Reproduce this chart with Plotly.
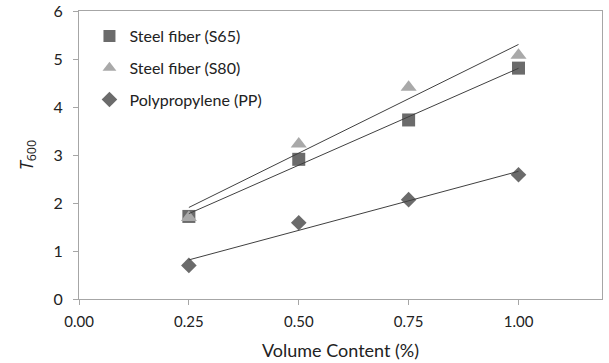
import numpy as np
import plotly.graph_objects as go

volume = [0.25, 0.50, 0.75, 1.00]
s65 = [1.72, 2.91, 3.73, 4.81]
s80 = [1.70, 3.23, 4.41, 5.08]
pp = [0.70, 1.59, 2.07, 2.59]
series_names = ["Steel fiber (S65)", "Steel fiber (S80)", "Polypropylene (PP)"]
x_ticks = [0.0, 0.25, 0.5, 0.75, 1.0]
x_tick_labels = ["0.00", "0.25", "0.50", "0.75", "1.00"]

FONT = "Lato"
fig = go.Figure()

styles = [
    dict(symbol="square", size=13, color="#6b6b6b"),
    dict(symbol="triangle-up", size=14, color="#a9a9a9"),
    dict(symbol="diamond", size=12, color="#6b6b6b"),
]
data = [s65, s80, pp]

for i, (name, ys, st) in enumerate(zip(series_names, data, styles)):
    fig.add_trace(go.Scatter(x=volume, y=ys, mode="markers", name=name, legendgroup=f"g{i}",
                             marker=dict(symbol=st["symbol"], size=st["size"], color=st["color"],
                                         line=dict(width=0))))

for ys in data:
    k, b = np.polyfit(volume, ys, 1)
    xs = [volume[0], volume[-1]]
    fig.add_trace(go.Scatter(x=xs, y=[k * v + b for v in xs], mode="lines", showlegend=False,
                             line=dict(color="#404040", width=1), hoverinfo="skip"))

fig.update_layout(
    width=609, height=363,
    margin=dict(l=79, r=7, t=11, b=64),
    paper_bgcolor="white", plot_bgcolor="white",
    font=dict(family=FONT, size=15, color="#222222"),
    showlegend=True,
    legend=dict(x=0.02, y=0.972, xanchor="left", yanchor="top", bgcolor="rgba(0,0,0,0)",
                font=dict(family=FONT, size=16, color="#222222"), tracegroupgap=8,
                itemsizing="constant"),
    xaxis=dict(range=[0, 1.19], tickvals=x_ticks, ticktext=x_tick_labels, automargin=False,
               showgrid=False, zeroline=False, showline=True, linecolor="#a6a6a6",
               mirror=True, ticks="outside", ticklen=5, tickcolor="#a6a6a6", ticklabelstandoff=4,
               tickfont=dict(size=15), title=dict(text="Volume Content (%)", font=dict(size=18))),
    yaxis=dict(range=[0, 6], dtick=1, showgrid=False, zeroline=False, showline=True, automargin=False,
               linecolor="#a6a6a6", mirror=True, ticks="outside", ticklen=5, tickcolor="#a6a6a6",
               ticklabelstandoff=7, tickfont=dict(size=16),
               title=dict(text="<i>T</i><sub>600</sub>", font=dict(family="Open Sans", size=18))),
)

fig.write_html("out.html", post_script="document.body.style.margin='0';",
               config={"displayModeBar": False})
